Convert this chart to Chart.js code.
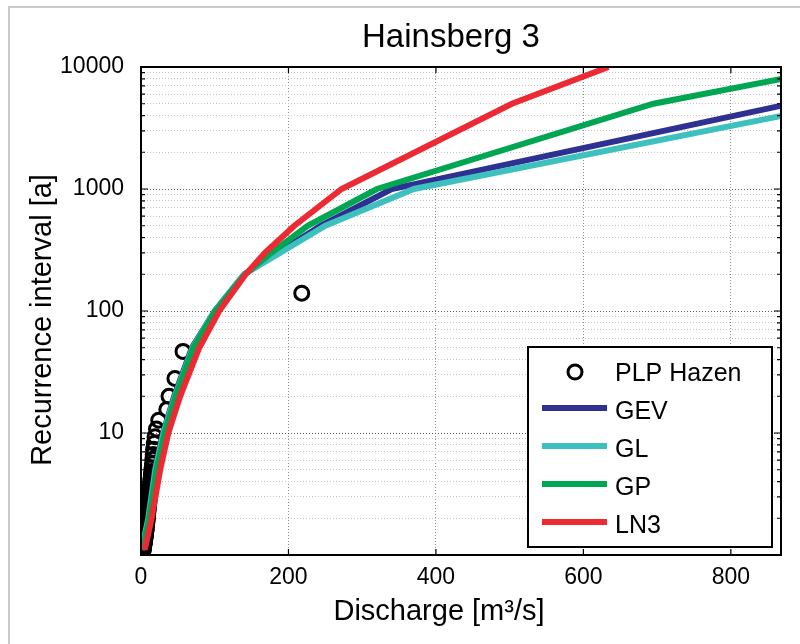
<!DOCTYPE html>
<html>
<head>
<meta charset="utf-8">
<script src="https://cdn.jsdelivr.net/npm/chart.js@4.4.1/dist/chart.umd.min.js"></script>
<style>
  html, body { margin: 0; padding: 0; background: #fff; }
  #contenedor { position: relative; width: 800px; height: 644px; overflow: hidden; }
  #marco { position: absolute; left: 8px; top: 6px; width: 800px; height: 700px; border-left: 2px solid #cacaca; border-top: 2px solid #cacaca; }
  canvas { position: absolute; left: 0; top: 0; }
</style>
</head>
<body>
<div id="contenedor">
  <div id="marco"></div>
  <canvas id="grafico" width="800" height="644"></canvas>
</div>
<script>
// Periodos de retorno de las curvas ajustadas [a]
const periodosAjuste = [1.1, 2, 5, 10, 20, 50, 100, 200, 300, 500, 1000, 5000, 10000];

// Caudales de cada distribución [m³/s]
const caudalGEV = [1, 10, 19, 30, 45, 69, 100, 140, 186, 244, 340, 881, 1150];
const caudalGL  = [1, 10, 19.5, 30.5, 46, 70, 100, 140, 189, 250, 370, 952, 1260];
const caudalGP  = [2, 11, 21, 32, 47, 71, 101, 141, 177, 226, 320, 695, 952];
const caudalLN3 = [5, 14.5, 26, 37, 53, 79, 106, 142, 168, 208, 272, 503, 634];

// Posiciones de graficado (Hazen), serie observada
const periodosObs = [140, 46.67, 28, 20, 15.56, 12.73, 10.77, 9.33, 8.24, 7.37,
  6.67, 6.09, 5.6, 5.19, 4.83, 4.52, 4.24, 4, 3.78, 3.59,
  3.41, 3.26, 3.11, 2.98, 2.86, 2.75, 2.64, 2.55, 2.46, 2.37,
  2.3, 2.22, 2.15, 2.09, 2.03, 1.97, 1.92, 1.87, 1.82, 1.77,
  1.73, 1.69, 1.65, 1.61, 1.57, 1.54, 1.51, 1.47, 1.44, 1.41,
  1.39, 1.36, 1.33, 1.31, 1.28, 1.26, 1.24, 1.22, 1.2, 1.18,
  1.16, 1.14, 1.12, 1.1, 1.09, 1.07, 1.05, 1.04, 1.02, 1.01];
const caudalObs = [218, 57, 46, 38, 35, 24, 21, 19, 18, 17,
  16.5, 16, 15.5, 15, 14.5, 14, 13.5, 13, 12.8, 12.5,
  12.2, 12, 11.7, 11.4, 11.1, 10.8, 10.5, 10.2, 10, 9.8,
  9.5, 9.2, 9, 8.8, 8.6, 8.4, 8.2, 8, 7.8, 7.6,
  7.4, 7.2, 7, 6.8, 6.6, 6.4, 6.2, 6, 5.8, 5.6,
  5.4, 5.2, 5, 4.8, 4.6, 4.4, 4.2, 4, 3.8, 3.6,
  3.4, 3.2, 3, 2.8, 2.6, 2.4, 2.2, 2, 1.7, 1.4];

// Marcas de los ejes
const marcasX = [0, 200, 400, 600, 800];
const marcasY = [1, 2, 3, 4, 5, 6, 7, 8, 9, 10, 20, 30, 40, 50, 60, 70, 80, 90,
  100, 200, 300, 400, 500, 600, 700, 800, 900, 1000, 2000, 3000, 4000, 5000,
  6000, 7000, 8000, 9000, 10000];
const etiquetasY = [10, 100, 1000, 10000];

const titulo = 'Hainsberg 3';
const tituloX = 'Discharge [m³/s]';
const tituloY = 'Recurrence interval [a]';

const fuente = '"Liberation Sans", Arial, Helvetica, sans-serif';
Chart.defaults.font.family = fuente;

const esDecada = (v) => Math.abs(Math.log10(v) - Math.round(Math.log10(v))) < 1e-9;

const puntos = (xs, ys) => xs.map((x, i) => ({ x, y: ys[i] }));

const serieCurva = (etiqueta, caudales, color, orden) => ({
  label: etiqueta,
  data: puntos(caudales, periodosAjuste),
  showLine: true,
  borderColor: color,
  backgroundColor: color,
  borderWidth: 6,
  pointRadius: 0,
  tension: 0,
  order: orden
});

/**
 * Títulos del gráfico y de los ejes
 */
const textosFigura = {
  id: 'textosFigura',
  afterDraw(chart) {
    const ctx = chart.ctx;
    ctx.save();
    ctx.fillStyle = '#000';
    ctx.textAlign = 'center';
    ctx.textBaseline = 'alphabetic';
    ctx.font = '33px ' + fuente;
    ctx.fillText(titulo, 451, 47);
    ctx.font = '29px ' + fuente;
    ctx.fillText(tituloX, 439, 620);
    ctx.translate(51, 320);
    ctx.rotate(-Math.PI / 2);
    ctx.fillText(tituloY, 0, 0);
    ctx.restore();
  }
};

/**
 * Marco negro de los ejes con marcas interiores
 */
const marcoEjes = {
  id: 'marcoEjes',
  afterDatasetsDraw(chart) {
    const { ctx, chartArea: a, scales } = chart;
    ctx.save();
    ctx.strokeStyle = '#000';
    ctx.lineWidth = 1.2;
    ctx.beginPath();
    marcasX.forEach((v) => {
      const px = scales.x.getPixelForValue(v);
      ctx.moveTo(px, a.bottom); ctx.lineTo(px, a.bottom - 6);
      ctx.moveTo(px, a.top); ctx.lineTo(px, a.top + 6);
    });
    marcasY.forEach((v) => {
      const py = scales.y.getPixelForValue(v);
      const largo = esDecada(v) ? 7 : 4;
      ctx.moveTo(a.left, py); ctx.lineTo(a.left + largo, py);
      ctx.moveTo(a.right, py); ctx.lineTo(a.right - largo, py);
    });
    ctx.stroke();
    ctx.lineWidth = 2;
    ctx.strokeRect(a.left, a.top, a.right - a.left, a.bottom - a.top);
    ctx.restore();
  }
};

/**
 * Leyenda con caja dentro del área de trazado
 */
const leyendaCaja = {
  id: 'leyendaCaja',
  afterDraw(chart) {
    const ctx = chart.ctx;
    ctx.save();
    ctx.fillStyle = '#fff';
    ctx.fillRect(528, 347, 244, 200);
    ctx.strokeStyle = '#000';
    ctx.lineWidth = 2;
    ctx.strokeRect(528, 347, 244, 200);
    ctx.font = '25px ' + fuente;
    ctx.textBaseline = 'middle';
    chart.data.datasets.forEach((ds, i) => {
      const y = 373 + i * 38;
      if (ds.showLine) {
        ctx.strokeStyle = ds.borderColor;
        ctx.lineWidth = 6;
        ctx.beginPath();
        ctx.moveTo(542, y - 3);
        ctx.lineTo(607, y - 3);
        ctx.stroke();
      } else {
        ctx.strokeStyle = '#000';
        ctx.lineWidth = 3;
        ctx.beginPath();
        ctx.arc(575, y - 1, 7, 0, Math.PI * 2);
        ctx.stroke();
      }
      ctx.fillStyle = '#000';
      ctx.fillText(ds.label, 615, y + 1);
    });
    ctx.restore();
  }
};

const ctx = document.getElementById('grafico').getContext('2d');

new Chart(ctx, {
  type: 'scatter',
  data: {
    datasets: [
      {
        label: 'PLP Hazen',
        data: puntos(caudalObs, periodosObs),
        pointStyle: 'circle',
        pointRadius: 7,
        borderWidth: 3,
        borderColor: '#000',
        backgroundColor: 'rgba(0,0,0,0)',
        order: 5
      },
      serieCurva('GEV', caudalGEV, '#2e3192', 4),
      serieCurva('GL', caudalGL, '#3ec1be', 3),
      serieCurva('GP', caudalGP, '#00a651', 2),
      serieCurva('LN3', caudalLN3, '#ed2a34', 1)
    ]
  },
  options: {
    responsive: false,
    animation: false,
    events: [],
    layout: { padding: { left: 0, right: 19, top: 67, bottom: 0 } },
    plugins: {
      legend: { display: false },
      tooltip: { enabled: false },
      title: { display: false }
    },
    scales: {
      x: {
        type: 'linear',
        min: 0,
        max: 868,
        afterBuildTicks: (escala) => { escala.ticks = marcasX.map((v) => ({ value: v })); },
        afterFit: (escala) => { escala.height = 89; },
        ticks: { color: '#000', font: { size: 23 }, padding: 9, maxRotation: 0, autoSkip: false },
        grid: { color: '#8c8c8c', lineWidth: 1, drawTicks: false },
        border: { display: false, dash: [1, 2] }
      },
      y: {
        type: 'logarithmic',
        min: 1,
        max: 10000,
        afterBuildTicks: (escala) => { escala.ticks = marcasY.map((v) => ({ value: v })); },
        afterFit: (escala) => { escala.width = 141; },
        ticks: {
          color: '#000',
          font: { size: 23 },
          padding: 17,
          autoSkip: false,
          callback: (v) => (etiquetasY.includes(v) ? String(v) : '')
        },
        grid: {
          color: (c) => (c.tick && esDecada(c.tick.value) ? '#5a5a5a' : '#c4c4c4'),
          lineWidth: 1,
          drawTicks: false
        },
        border: { display: false, dash: [1, 2] }
      }
    }
  },
  plugins: [marcoEjes, leyendaCaja, textosFigura]
});
</script>
</body>
</html>
